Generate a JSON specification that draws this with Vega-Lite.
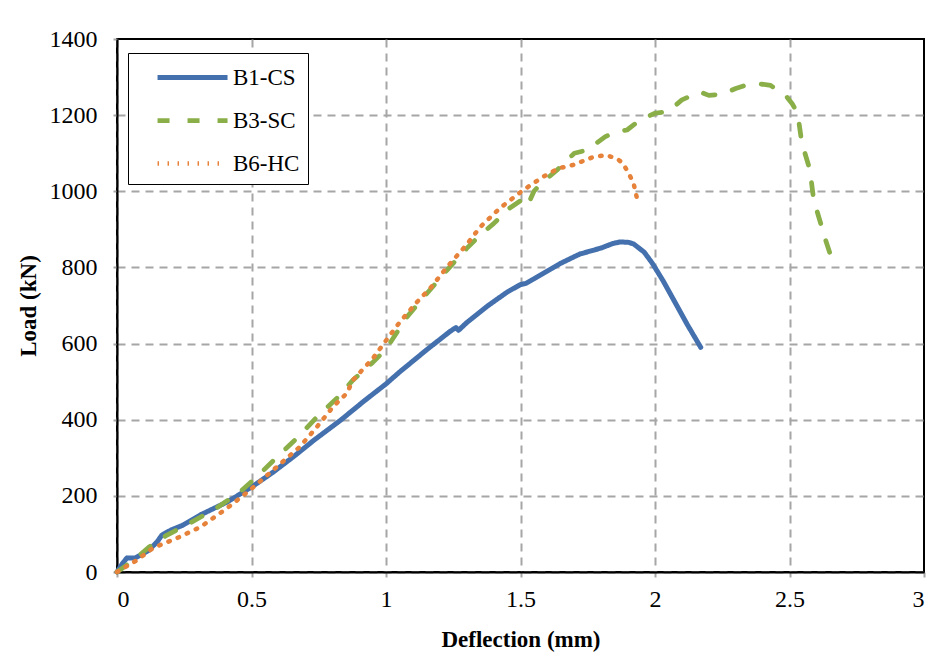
{
  "$schema": "https://vega.github.io/schema/vega-lite/v6.json",
  "width": 807,
  "height": 533,
  "autosize": {"type": "none"},
  "padding": {"left": 117, "top": 39, "right": 13, "bottom": 92},
  "background": "white",
  "config": {
    "view": {"stroke": "black", "strokeWidth": 2},
    "font": "Liberation Serif",
    "axis": {"labelFont": "Liberation Serif", "titleFont": "Liberation Serif"},
    "legend": {"labelFont": "Liberation Serif"}
  },
  "data": {"values": [
    {"s":"B1-CS","i":0,"d":0,"L":0},{"s":"B1-CS","i":1,"d":0.02,"L":22},{"s":"B1-CS","i":2,"d":0.037,"L":37},{"s":"B1-CS","i":3,"d":0.067,"L":37},{"s":"B1-CS","i":4,"d":0.09,"L":45},{"s":"B1-CS","i":5,"d":0.12,"L":58},{"s":"B1-CS","i":6,"d":0.15,"L":80},{"s":"B1-CS","i":7,"d":0.167,"L":97},{"s":"B1-CS","i":8,"d":0.2,"L":110},{"s":"B1-CS","i":9,"d":0.245,"L":123},{"s":"B1-CS","i":10,"d":0.31,"L":150},{"s":"B1-CS","i":11,"d":0.41,"L":184},{"s":"B1-CS","i":12,"d":0.5,"L":223},{"s":"B1-CS","i":13,"d":0.58,"L":262},{"s":"B1-CS","i":14,"d":0.66,"L":305},{"s":"B1-CS","i":15,"d":0.73,"L":345},{"s":"B1-CS","i":16,"d":0.83,"L":398},{"s":"B1-CS","i":17,"d":0.92,"L":450},{"s":"B1-CS","i":18,"d":1.0,"L":494},{"s":"B1-CS","i":19,"d":1.05,"L":525},{"s":"B1-CS","i":20,"d":1.15,"L":583},{"s":"B1-CS","i":21,"d":1.24,"L":633},{"s":"B1-CS","i":22,"d":1.26,"L":642},{"s":"B1-CS","i":23,"d":1.27,"L":635},{"s":"B1-CS","i":24,"d":1.30,"L":655},{"s":"B1-CS","i":25,"d":1.38,"L":700},{"s":"B1-CS","i":26,"d":1.45,"L":735},{"s":"B1-CS","i":27,"d":1.50,"L":755},{"s":"B1-CS","i":28,"d":1.52,"L":758},{"s":"B1-CS","i":29,"d":1.55,"L":770},{"s":"B1-CS","i":30,"d":1.647,"L":810},{"s":"B1-CS","i":31,"d":1.72,"L":835},{"s":"B1-CS","i":32,"d":1.80,"L":851},{"s":"B1-CS","i":33,"d":1.84,"L":862},{"s":"B1-CS","i":34,"d":1.87,"L":867},{"s":"B1-CS","i":35,"d":1.90,"L":866},{"s":"B1-CS","i":36,"d":1.92,"L":862},{"s":"B1-CS","i":37,"d":1.96,"L":840},{"s":"B1-CS","i":38,"d":1.99,"L":811},{"s":"B1-CS","i":39,"d":2.03,"L":765},{"s":"B1-CS","i":40,"d":2.07,"L":714},{"s":"B1-CS","i":41,"d":2.12,"L":650},{"s":"B1-CS","i":42,"d":2.17,"L":590},
    {"s":"B3-SC","i":0,"d":0,"L":0},{"s":"B3-SC","i":1,"d":0.06,"L":30},{"s":"B3-SC","i":2,"d":0.12,"L":66},{"s":"B3-SC","i":3,"d":0.186,"L":97},{"s":"B3-SC","i":4,"d":0.27,"L":128},{"s":"B3-SC","i":5,"d":0.37,"L":168},{"s":"B3-SC","i":6,"d":0.457,"L":210},{"s":"B3-SC","i":7,"d":0.52,"L":250},{"s":"B3-SC","i":8,"d":0.595,"L":302},{"s":"B3-SC","i":9,"d":0.67,"L":352},{"s":"B3-SC","i":10,"d":0.743,"L":407},{"s":"B3-SC","i":11,"d":0.818,"L":457},{"s":"B3-SC","i":12,"d":0.877,"L":504},{"s":"B3-SC","i":13,"d":0.95,"L":550},{"s":"B3-SC","i":14,"d":1.0,"L":585},{"s":"B3-SC","i":15,"d":1.078,"L":670},{"s":"B3-SC","i":16,"d":1.15,"L":730},{"s":"B3-SC","i":17,"d":1.227,"L":793},{"s":"B3-SC","i":18,"d":1.30,"L":850},{"s":"B3-SC","i":19,"d":1.35,"L":885},{"s":"B3-SC","i":20,"d":1.40,"L":915},{"s":"B3-SC","i":21,"d":1.46,"L":956},{"s":"B3-SC","i":22,"d":1.51,"L":980},{"s":"B3-SC","i":23,"d":1.528,"L":965},{"s":"B3-SC","i":24,"d":1.55,"L":1000},{"s":"B3-SC","i":25,"d":1.57,"L":1016},{"s":"B3-SC","i":26,"d":1.636,"L":1056},{"s":"B3-SC","i":27,"d":1.70,"L":1100},{"s":"B3-SC","i":28,"d":1.747,"L":1108},{"s":"B3-SC","i":29,"d":1.814,"L":1143},{"s":"B3-SC","i":30,"d":1.85,"L":1155},{"s":"B3-SC","i":31,"d":1.896,"L":1161},{"s":"B3-SC","i":32,"d":1.944,"L":1187},{"s":"B3-SC","i":33,"d":2.0,"L":1205},{"s":"B3-SC","i":34,"d":2.05,"L":1210},{"s":"B3-SC","i":35,"d":2.10,"L":1240},{"s":"B3-SC","i":36,"d":2.167,"L":1261},{"s":"B3-SC","i":37,"d":2.20,"L":1252},{"s":"B3-SC","i":38,"d":2.25,"L":1255},{"s":"B3-SC","i":39,"d":2.30,"L":1270},{"s":"B3-SC","i":40,"d":2.34,"L":1279},{"s":"B3-SC","i":41,"d":2.39,"L":1282},{"s":"B3-SC","i":42,"d":2.43,"L":1278},{"s":"B3-SC","i":43,"d":2.465,"L":1261},{"s":"B3-SC","i":44,"d":2.49,"L":1248},{"s":"B3-SC","i":45,"d":2.51,"L":1230},{"s":"B3-SC","i":46,"d":2.53,"L":1205},{"s":"B3-SC","i":47,"d":2.546,"L":1127},{"s":"B3-SC","i":48,"d":2.576,"L":1056},{"s":"B3-SC","i":49,"d":2.59,"L":977},{"s":"B3-SC","i":50,"d":2.62,"L":906},{"s":"B3-SC","i":51,"d":2.635,"L":870},{"s":"B3-SC","i":52,"d":2.65,"L":838},
    {"s":"B6-HC","i":0,"d":0,"L":0},{"s":"B6-HC","i":1,"d":0.074,"L":31},{"s":"B6-HC","i":2,"d":0.134,"L":63},{"s":"B6-HC","i":3,"d":0.223,"L":89},{"s":"B6-HC","i":4,"d":0.31,"L":118},{"s":"B6-HC","i":5,"d":0.41,"L":168},{"s":"B6-HC","i":6,"d":0.494,"L":215},{"s":"B6-HC","i":7,"d":0.594,"L":276},{"s":"B6-HC","i":8,"d":0.68,"L":329},{"s":"B6-HC","i":9,"d":0.743,"L":381},{"s":"B6-HC","i":10,"d":0.803,"L":434},{"s":"B6-HC","i":11,"d":0.855,"L":470},{"s":"B6-HC","i":12,"d":0.877,"L":504},{"s":"B6-HC","i":13,"d":0.95,"L":560},{"s":"B6-HC","i":14,"d":1.0,"L":608},{"s":"B6-HC","i":15,"d":1.052,"L":657},{"s":"B6-HC","i":16,"d":1.115,"L":709},{"s":"B6-HC","i":17,"d":1.17,"L":750},{"s":"B6-HC","i":18,"d":1.227,"L":801},{"s":"B6-HC","i":19,"d":1.30,"L":860},{"s":"B6-HC","i":20,"d":1.35,"L":906},{"s":"B6-HC","i":21,"d":1.424,"L":956},{"s":"B6-HC","i":22,"d":1.51,"L":1003},{"s":"B6-HC","i":23,"d":1.584,"L":1038},{"s":"B6-HC","i":24,"d":1.64,"L":1060},{"s":"B6-HC","i":25,"d":1.695,"L":1069},{"s":"B6-HC","i":26,"d":1.77,"L":1090},{"s":"B6-HC","i":27,"d":1.82,"L":1095},{"s":"B6-HC","i":28,"d":1.86,"L":1085},{"s":"B6-HC","i":29,"d":1.88,"L":1074},{"s":"B6-HC","i":30,"d":1.90,"L":1050},{"s":"B6-HC","i":31,"d":1.92,"L":1022},{"s":"B6-HC","i":32,"d":1.937,"L":969}
  ]},
  "mark": {"type": "line", "strokeCap": "round", "strokeJoin": "round"},
  "encoding": {
    "x": {"field": "d", "type": "quantitative", "scale": {"domain": [0, 3], "nice": false},
      "axis": {"title": "Deflection (mm)", "values": [0,0.5,1,1.5,2,2.5,3], "format": "~g", "labelFont": "Liberation Serif", "labelFontSize": 24, "labelColor": "black", "labelPadding": 10, "tickSize": 5, "tickColor": "#a6a6a6", "tickWidth": 2,
        "domainColor": "black", "domainWidth": 2, "gridColor": "#a6a6a6", "gridDash": [8, 6], "gridWidth": 2,
        "gridOpacity": {"condition": {"test": "datum.value >= 3", "value": 0}, "value": 1},
        "titleFont": "Liberation Serif", "titleFontSize": 23, "titleFontWeight": "bold", "titleColor": "black", "titlePadding": 17}},
    "y": {"field": "L", "type": "quantitative", "scale": {"domain": [0, 1400], "nice": false},
      "axis": {"title": "Load (kN)", "values": [0,200,400,600,800,1000,1200,1400], "format": "d", "labelFont": "Liberation Serif", "labelFontSize": 24, "labelColor": "black", "labelPadding": 16, "tickSize": 4, "tickColor": "#a6a6a6", "tickWidth": 2,
        "domainColor": "black", "domainWidth": 2, "gridColor": "#a6a6a6", "gridDash": [8, 6], "gridWidth": 2,
        "gridOpacity": {"condition": {"test": "datum.value >= 1400", "value": 0}, "value": 1},
        "titleFont": "Liberation Serif", "titleFontSize": 23, "titleFontWeight": "bold", "titleColor": "black", "titlePadding": 9}},
    "color": {"field": "s", "type": "nominal", "scale": {"domain": ["B1-CS","B3-SC","B6-HC"], "range": ["#4470AE", "#8AAF48", "#E6823A"]},
      "legend": {"title": null, "orient": "none", "legendX": 11, "legendY": 14, "symbolType": "M0.36,0H5.36", "symbolSize": 784, "symbolStrokeWidth": 4,
        "labelFontSize": 23, "labelColor": "black", "labelFont": "Liberation Serif", "labelExpr": "datum.label + '     '", "strokeColor": "black", "fillColor": "white", "padding": 8, "rowPadding": 14, "labelOffset": 64}},
    "strokeDash": {"field": "s", "type": "nominal", "scale": {"domain": ["B1-CS","B3-SC","B6-HC"], "range": [[1,0],[12,18],[1.5,8.5]]}},
    "strokeWidth": {"field": "s", "type": "nominal", "scale": {"domain": ["B1-CS","B3-SC","B6-HC"], "range": [5, 4.5, 4]}, "legend": null},
    "order": {"field": "i", "type": "quantitative"}
  }
}
